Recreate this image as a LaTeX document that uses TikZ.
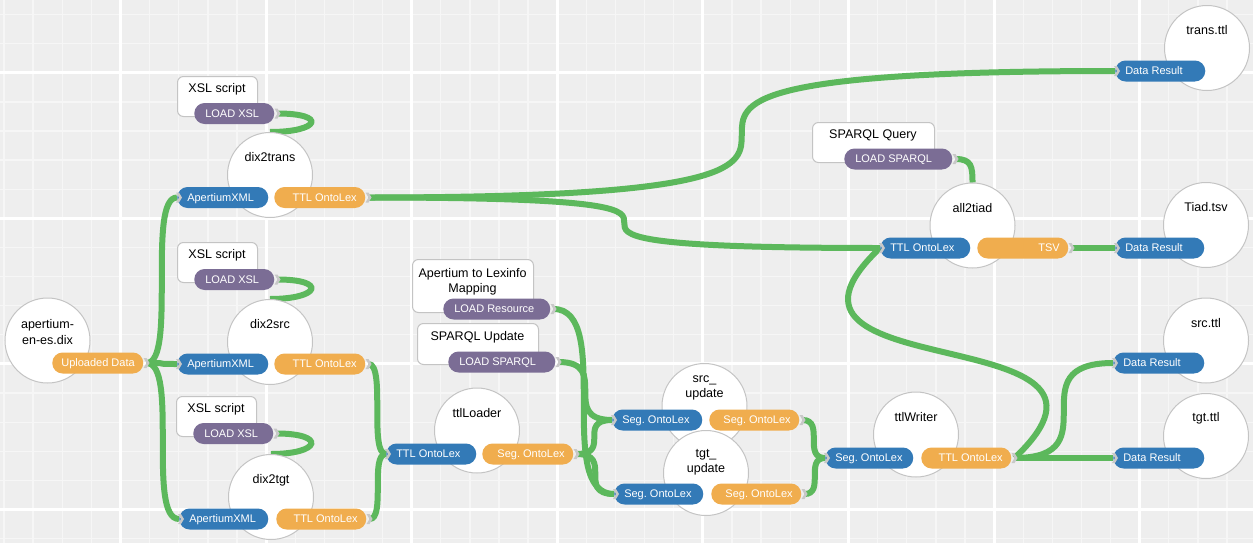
\documentclass[tikz,border=0pt]{standalone}
\usepackage{fontspec}
\setmainfont{Liberation Sans}
\usetikzlibrary{backgrounds,calc}
\definecolor{bg}{HTML}{EEEEEE}
\definecolor{gridminor}{HTML}{F6F6F6}
\definecolor{portblue}{HTML}{337AB7}
\definecolor{portorange}{HTML}{F0AD4E}
\definecolor{portpurple}{HTML}{7B6D95}
\definecolor{linkgreen}{HTML}{5CB85C}
\definecolor{rim}{HTML}{C4C4C4}
\definecolor{chev}{HTML}{C8C8C8}
\frenchspacing
\newcommand\kink[2]{\draw[conn] (#1) .. controls (#1 -| #2) and (#2 -| #1) .. (#2);}
\newcommand\outpt[1]{\coordinate (#1-o) at ($(#1.east)+(3,0)$);\pic at (#1.east) {chevron};}
\newcommand\inpt[1]{\pic at ($(#1.west)+(-1,0)$) {chevron};}
\begin{document}
\begin{tikzpicture}[x=0.75pt, y=-0.75pt,
  proc/.style={circle, draw=rim, line width=0.75pt, fill=white, minimum size=63.75pt, inner sep=0pt},
  lbl/.style={font=\fontsize{9.4pt}{11.5pt}\selectfont, align=center, inner sep=0pt, text=black},
  res/.style={draw=rim, fill=white, line width=0.75pt, rounded corners=4.5pt, anchor=north west, inner sep=0pt},
  port/.style={rounded corners=7.8pt, minimum height=15.75pt, inner ysep=0pt, text=white, anchor=west, font=\fontsize{8.25pt}{10pt}\selectfont, text height=5.9pt, text depth=0pt},
  inport/.style={port, fill=portblue, align=flush left, inner xsep=7.5pt, text width=#1},
  inport/.default=52.5pt,
  outport/.style={port, fill=portorange, align=flush right, inner xsep=6.4pt, text width=#1},
  outport/.default=54.7pt,
  loadport/.style={port, fill=portpurple, align=flush left, inner xsep=8.25pt, text width=#1},
  conn/.style={draw=linkgreen, line width=4.5pt},
  chevron/.pic={\fill[chev] (0,-5) -- (3,-5) -- (6,0) -- (3,5) -- (0,5) -- (3,0) -- cycle;}
]
\useasboundingbox (0,0) rectangle (1253,543);

% apertium-en-es.dix
\node[proc] (apert) at (47.5,340.5) {};
\node[lbl] (apert-l) at (47.5,332) {apertium-\\en-es.dix};
\node[outport=55.45pt] (UD) at (52,363) {\mbox{Uploaded Data}};

% dix2trans
\node[res, minimum width=60pt, minimum height=30pt] (xsl1) at (177,76) {};
\node[lbl] (xsl1-l) at (217,89) {XSL script};
\node[loadport=43.5pt] (LX1) at (194,113.5) {\mbox{LOAD XSL}};
\node[proc] (dix2trans) at (270,175) {};
\node[lbl] (dix2trans-l) at (270,157) {dix2trans};
\node[inport=53.25pt] (AX1) at (177,197.5) {\mbox{ApertiumXML}};
\node[outport=55.45pt] (TO1) at (274,197.5) {\mbox{TTL OntoLex}};

% dix2src
\node[res, minimum width=60pt, minimum height=30pt] (xsl2) at (177,242) {};
\node[lbl] (xsl2-l) at (217,255) {XSL script};
\node[loadport=43.5pt] (LX2) at (194,279.5) {\mbox{LOAD XSL}};
\node[proc] (dix2src) at (270,342) {};
\node[lbl] (dix2src-l) at (270,324) {dix2src};
\node[inport=53.25pt] (AX2) at (177,364) {\mbox{ApertiumXML}};
\node[outport=55.45pt] (TO2) at (274,364) {\mbox{TTL OntoLex}};

% dix2tgt
\node[res, minimum width=60pt, minimum height=30pt] (xsl3) at (176,396) {};
\node[lbl] (xsl3-l) at (216,409) {XSL script};
\node[loadport=43.5pt] (LX3) at (193,433.5) {\mbox{LOAD XSL}};
\node[proc] (dix2tgt) at (271,497) {};
\node[lbl] (dix2tgt-l) at (271,480) {dix2tgt};
\node[inport=51.75pt] (AX3) at (179,519) {\mbox{ApertiumXML}};
\node[outport] (TO3) at (276,519) {\mbox{TTL OntoLex}};

% ttlLoader
\node[proc] (ttlLoader) at (477,430.5) {};
\node[lbl] (ttlLoader-l) at (477,413) {ttlLoader};
\node[inport] (TOL) at (386,454) {\mbox{TTL OntoLex}};
\node[outport=55.45pt] (SOl) at (482,454) {\mbox{Seg. OntoLex}};

% resources for updates
\node[res, minimum width=90.75pt, minimum height=39.75pt] (aplex) at (412,259) {};
\node[lbl] (aplex-l) at (472.5,282) {Apertium to Lexinfo\\Mapping};
\node[loadport=63.75pt] (LR) at (443,309) {\mbox{LOAD Resource}};
\node[res, minimum width=90.75pt, minimum height=30.75pt] (spupd) at (417,323) {};
\node[lbl] (spupd-l) at (477.5,337) {SPARQL Update};
\node[loadport=63.75pt] (LSU) at (448,362) {\mbox{LOAD SPARQL}};

% src_update
\node[proc] (srcupd) at (704.5,406) {};
\node[lbl] (srcupd-l) at (704.5,388) {src\_\\update};
\node[inport] (SOs) at (612,420) {\mbox{Seg. OntoLex}};
\node[outport] (SOso) at (709,420) {\mbox{Seg. OntoLex}};

% tgt_update
\node[proc] (tgtupd) at (706,473) {};
\node[lbl] (tgtupd-l) at (706,462) {tgt\_\\update};
\node[inport=51.75pt] (SOt) at (614,494) {\mbox{Seg. OntoLex}};
\node[outport] (SOto) at (711,494) {\mbox{Seg. OntoLex}};

% ttlWriter
\node[proc] (ttlWriter) at (916,434.5) {};
\node[lbl] (ttlWriter-l) at (916,417) {ttlWriter};
\node[inport=51pt] (SOw) at (825,458) {\mbox{Seg. OntoLex}};
\node[outport] (TOw) at (921,458) {\mbox{TTL OntoLex}};

% all2tiad
\node[res, minimum width=91.5pt, minimum height=30pt] (spq) at (812,122) {};
\node[lbl] (spq-l) at (873,135) {SPARQL Query};
\node[loadport=64.5pt] (LSQ) at (844,159) {\mbox{LOAD SPARQL}};
\node[proc] (all2tiad) at (972.5,225.5) {};
\node[lbl] (all2tiad-l) at (972.5,208) {all2tiad};
\node[inport] (TOa) at (880,248) {\mbox{TTL OntoLex}};
\node[outport=55.45pt] (TSV) at (977,248) {\mbox{TSV}};

% results
\node[proc] (transttl) at (1207,48) {};
\node[lbl] (transttl-l) at (1207,30) {trans.ttl};
\node[inport] (DRtrans) at (1115,71) {\mbox{Data Result}};
\node[proc] (tiadtsv) at (1206,225) {};
\node[lbl] (tiadtsv-l) at (1206,207) {Tiad.tsv};
\node[inport=51.75pt] (DRtiad) at (1115,248) {\mbox{Data Result}};
\node[proc] (srcttl) at (1206,340.5) {};
\node[lbl] (srcttl-l) at (1206,323) {src.ttl};
\node[inport=53.25pt] (DRsrc) at (1113,363) {\mbox{Data Result}};
\node[proc] (tgtttl) at (1206,436) {};
\node[lbl] (tgtttl-l) at (1206,418) {tgt.ttl};
\node[inport=53.25pt] (DRtgt) at (1113,458) {\mbox{Data Result}};

% port markers
\outpt{UD}\outpt{TO1}\outpt{TO2}\outpt{TO3}\outpt{LX1}\outpt{LX2}\outpt{LX3}
\outpt{SOl}\outpt{LR}\outpt{LSU}\outpt{SOso}\outpt{SOto}\outpt{TOw}\outpt{LSQ}\outpt{TSV}
\inpt{AX1}\inpt{AX2}\inpt{AX3}\inpt{TOL}\inpt{SOs}\inpt{SOt}\inpt{SOw}\inpt{TOa}
\inpt{DRtrans}\inpt{DRtiad}\inpt{DRsrc}\inpt{DRtgt}

\begin{pgfonlayer}{background}
  \fill[bg] (0,0) rectangle (1253,543);
  \foreach \k in {0,...,43} {\pgfmathsetmacro\gx{4.0+29.12*\k}
    \draw[gridminor, line width=1pt] (\gx,0) -- (\gx,543);}
  \foreach \k in {0,...,18} {\pgfmathsetmacro\gy{14.5+29.12*\k}
    \draw[gridminor, line width=1pt] (0,\gy) -- (1253,\gy);}
  \foreach \k in {0,...,7} {\pgfmathsetmacro\gx{120.4+145.6*\k}
    \draw[white, line width=2.25pt] (\gx,0) -- (\gx,543);}
  \foreach \k in {0,...,3} {\pgfmathsetmacro\gy{72.7+145.6*\k}
    \draw[white, line width=2.25pt] (0,\gy) -- (1253,\gy);}
  % connectors
  \kink{UD-o}{AX1.west}
  \kink{UD-o}{AX2.west}
  \kink{UD-o}{AX3.west}
  \draw[conn] (LX1-o) .. controls +(50,0) and +(50,0) .. (dix2trans.north);
  \draw[conn] (LX2-o) .. controls +(50,0) and +(50,0) .. (dix2src.north);
  \draw[conn] (LX3-o) .. controls +(50,0) and +(50,0) .. (dix2tgt.north);
  \kink{TO1-o}{DRtrans.west}
  \kink{TO1-o}{TOa.west}
  \kink{TO2-o}{TOL.west}
  \kink{TO3-o}{TOL.west}
  \kink{LR-o}{SOt.west}
  \kink{LSU-o}{SOs.west}
  \kink{SOl-o}{SOs.west}
  \kink{SOl-o}{SOt.west}
  \kink{SOso-o}{SOw.west}
  \kink{SOto-o}{SOw.west}
  \draw[conn] (LSQ-o) .. controls +(16,0) and +(0,-16) .. (all2tiad.north);
  \kink{TSV-o}{DRtiad.west}
  \kink{TOw-o}{DRsrc.west}
  \kink{TOw-o}{DRtgt.west}
  \draw[conn] (TOw-o) .. controls +(150,-142) and +(-150,142) .. (TOa.west);
\end{pgfonlayer}
\end{tikzpicture}
\end{document}
